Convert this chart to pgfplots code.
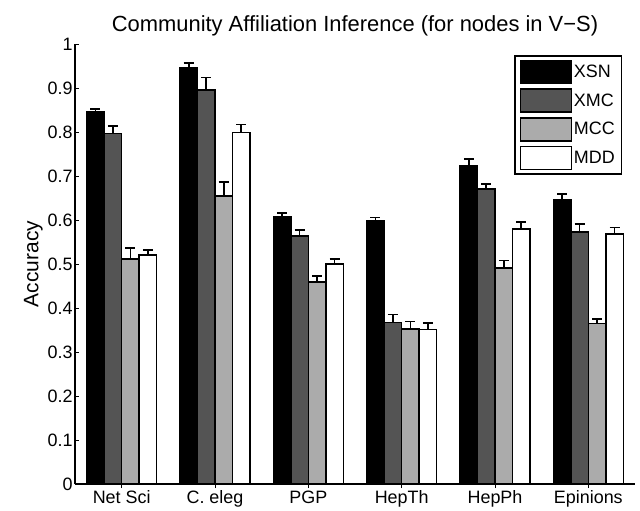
\documentclass[border=0pt]{standalone}
\usepackage{pgfplots}
\pgfplotsset{compat=1.18}
\usepackage{fontspec}
\setmainfont{Liberation Sans}
\definecolor{cdark}{gray}{0.33}
\definecolor{clight}{gray}{0.67}
\begin{document}
\begin{tikzpicture}
\begin{axis}[
  name=ax,
  scale only axis,
  width=560bp, height=440bp,
  xmin=0.5, xmax=6.5, ymin=0, ymax=1,
  axis x line*=bottom, axis y line*=left,
  axis line style={-, line width=1.8pt},
  xtick={1,2,3,4,5,6},
  xticklabels={Net Sci, C. eleg, PGP, HepTh, HepPh, Epinions},
  ytick={0,0.1,...,1},
  yticklabel style={/pgf/number format/fixed},
  /pgf/number format/assume math mode=true,
  tick style={black, line width=0.5pt},
  major tick length=4bp,
  tick label style={font=\fontsize{18}{20}\selectfont},
  xticklabel style={yshift=1bp},
  yticklabel style={xshift=1bp},
  ylabel={Accuracy},
  ylabel style={font=\fontsize{21}{23}\selectfont, yshift=-2bp},
  title={Community Affiliation Inference (for nodes in V\textminus S)},
  title style={font=\fontsize{22}{24}\selectfont, yshift=-2bp},
  ybar,
  bar width=0.1875,
  legend style={at={(0.977,0.975)}, anchor=north east, draw=black, line width=1.6pt,
    font=\fontsize{18}{20}\selectfont, row sep=4bp, inner xsep=5bp, inner ysep=4bp,
    nodes={inner sep=1.5bp}},
  legend cell align=left,
  legend image code/.code={\draw[#1, line width=1.6pt] (0bp,-11.5bp) rectangle (51bp,11.5bp);},
  every axis plot/.append style={draw=black, line width=1.6pt},
  error bars/y dir=plus, error bars/y explicit,
  error bars/error bar style={line width=1.6pt, black},
  error bars/error mark options={rotate=90, mark size=5bp, line width=1.6pt, black},
]
\addplot[fill=black, bar shift=-0.28125] coordinates {
 (1,0.845) +- (0,0.007)
 (2,0.947) +- (0,0.010)
 (3,0.607) +- (0,0.009)
 (4,0.598) +- (0,0.008)
 (5,0.723) +- (0,0.016)
 (6,0.647) +- (0,0.012)
};
\addplot[fill=cdark, bar shift=-0.09375] coordinates {
 (1,0.797) +- (0,0.016)
 (2,0.896) +- (0,0.028)
 (3,0.564) +- (0,0.013)
 (4,0.367) +- (0,0.018)
 (5,0.670) +- (0,0.012)
 (6,0.573) +- (0,0.018)
};
\addplot[fill=clight, bar shift=0.09375] coordinates {
 (1,0.512) +- (0,0.025)
 (2,0.655) +- (0,0.031)
 (3,0.459) +- (0,0.014)
 (4,0.352) +- (0,0.017)
 (5,0.491) +- (0,0.017)
 (6,0.365) +- (0,0.010)
};
\addplot[fill=white, bar shift=0.28125] coordinates {
 (1,0.521) +- (0,0.011)
 (2,0.799) +- (0,0.018)
 (3,0.500) +- (0,0.012)
 (4,0.351) +- (0,0.015)
 (5,0.580) +- (0,0.016)
 (6,0.568) +- (0,0.015)
};
\legend{XSN, XMC, MCC, MDD}
\end{axis}
\path (ax.south west) ++(-75bp,-27bp) coordinate (bl);
\path (ax.south west) ++(565bp,484bp) coordinate (tr);
\path[use as bounding box] (bl) rectangle (tr);
\end{tikzpicture}
\end{document}
